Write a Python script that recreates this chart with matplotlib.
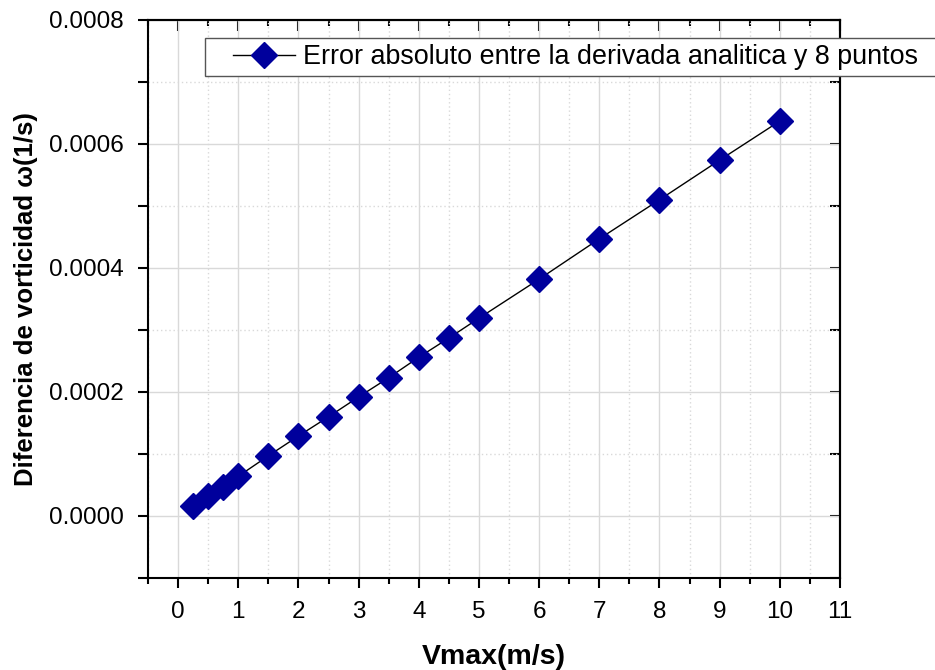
import matplotlib
matplotlib.use("Agg")
import matplotlib.pyplot as plt
from matplotlib.patches import Rectangle
from matplotlib.ticker import MultipleLocator, FormatStrFormatter

plt.rcParams['font.family'] = ['Liberation Sans', 'DejaVu Sans']

# Maximum velocity (m/s)
vmax = [0.25, 0.5, 0.75, 1, 1.5, 2, 2.5, 3, 3.5, 4, 4.5, 5, 6, 7, 8, 9, 10]
# Absolute error between the analytic derivative and the 8-point scheme (1/s)
error = [1.6e-5, 3.2e-5, 4.7e-5, 6.4e-5, 9.7e-5, 1.29e-4, 1.60e-4, 1.92e-4,
         2.23e-4, 2.56e-4, 2.87e-4, 3.19e-4, 3.82e-4, 4.47e-4, 5.10e-4,
         5.74e-4, 6.37e-4]

series_label = "Error absoluto entre la derivada analitica y 8 puntos"
xlabel = "Vmax(m/s)"
ylabel = "Diferencia de vorticidad \u03c9(1/s)"

W, H = 935, 670
fig = plt.figure(figsize=(W / 100, H / 100), dpi=100)
ax = fig.add_axes([148 / W, 1 - 578 / H, (840 - 148) / W, (578 - 20) / H])

ax.plot(vmax, error, color='black', lw=1.0, marker='D', markersize=13.5,
        markerfacecolor='#00009c', markeredgecolor='#00009c',
        label=series_label, zorder=3)

ax.set_xlim(-0.5, 11)
ax.set_ylim(-0.0001, 0.0008)
ax.xaxis.set_major_locator(MultipleLocator(1))
ax.xaxis.set_minor_locator(MultipleLocator(0.5))
ax.yaxis.set_major_locator(MultipleLocator(0.0002))
ax.yaxis.set_minor_locator(MultipleLocator(0.0001))
ax.yaxis.set_major_formatter(FormatStrFormatter('%.4f'))

ax.grid(which='major', color='#d9d9d9', lw=1.0, ls='-', zorder=0)
ax.grid(which='minor', color='#d9d9d9', lw=1.0, ls=(0, (1, 2)), zorder=0)
ax.set_axisbelow(True)

for s in ax.spines.values():
    s.set_linewidth(1.5)

ax.tick_params(which='major', direction='out', length=7.5, width=1.5,
               labelsize=17.5)
ax.tick_params(axis='x', which='major', pad=9)
ax.tick_params(axis='y', which='major', pad=10)
ax.tick_params(axis='x', which='minor', direction='out', length=4.5, width=1.5)
ax.tick_params(axis='y', which='minor', direction='out', length=7.5, width=1.5)

# inward ticks on the top and right frame, without labels
axt = ax.secondary_xaxis('top')
axt.xaxis.set_major_locator(MultipleLocator(1))
axt.xaxis.set_minor_locator(MultipleLocator(0.5))
axt.tick_params(which='major', direction='in', length=8, width=1.5, labeltop=False)
axt.tick_params(which='minor', direction='in', length=4.5, width=1.5)
axr = ax.secondary_yaxis('right')
axr.yaxis.set_major_locator(MultipleLocator(0.0002))
axr.yaxis.set_minor_locator(MultipleLocator(0.0001))
axr.tick_params(which='major', direction='in', length=7.5, width=1.5, labelright=False)
axr.tick_params(which='minor', direction='in', length=7.5, width=1.5)
for a in (axt, axr):
    for s in a.spines.values():
        s.set_linewidth(1.5)

ax.set_xlabel(xlabel, fontsize=20.5, fontweight='bold', labelpad=15)
ax.set_ylabel(ylabel, fontsize=18.5, fontweight='bold', labelpad=8)

# legend frame running off the right edge of the figure
fig.patches.append(Rectangle((205 / W, 1 - 76 / H), (W + 20 - 205) / W, 38 / H,
                             transform=fig.transFigure, facecolor='white',
                             edgecolor='#555555', lw=1.0, zorder=5))
leg = fig.legend(loc='center left', bbox_to_anchor=(233 / W, 1 - 57 / H),
                 fontsize=19.4, frameon=False, borderpad=0,
                 handlelength=2.3, handletextpad=0.3, borderaxespad=0)
leg.set_zorder(6)

fig.savefig('out.png', dpi=100)
